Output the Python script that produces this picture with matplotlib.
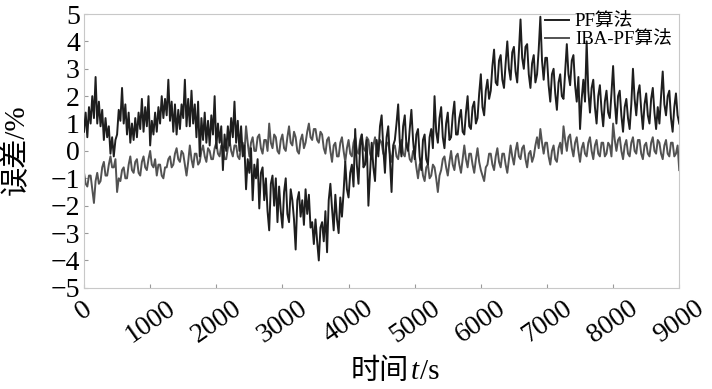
import numpy as np
import matplotlib
matplotlib.use("Agg")
import matplotlib.pyplot as plt
from matplotlib.offsetbox import TextArea, HPacker, AnchoredOffsetbox

# values, one every 25 s from 0 to 9000 s
pf_err = [
    0.7, 1.4, 0.5, 1.6, 1.0, 2.0, 1.2, 2.7, 1.0, 1.8,
    0.9, 1.5, 0.4, 1.2, 0.5, 0.9, -0.1, 0.5, -0.2, 0.4,
    0.6, 1.5, 1.1, 2.3, 1.0, 1.7, 0.6, 1.4, 0.3, 1.0,
    0.4, 1.2, 0.5, 1.4, 0.8, 1.9, 0.7, 1.6, 0.9, 2.0,
    0.2, 1.1, 0.6, 1.4, 0.7, 1.6, 1.0, 2.0, 1.2, 1.9,
    1.3, 2.6, 1.1, 1.8, 0.7, 1.7, 0.6, 1.5, 0.8, 1.7,
    1.2, 2.6, 0.9, 1.9, 0.9, 2.2, 1.0, 1.7, 0.5, 1.8,
    -0.2, 1.2, 0.4, 1.4, 0.3, 1.1, 0.2, 1.3, 0.6, 2.0,
    0.1, 1.0, 0.3, 0.9, -0.7, 0.6, 0.0, 0.9, 0.2, 1.2,
    0.5, 1.8, 0.3, 1.1, 0.0, 0.9, -0.2, 0.2, -1.4, -0.3,
    -0.8, 0.1, -1.8, -0.5, -1.0, -0.3, -2.1, -0.8, -0.6, -1.8,
    -1.0, -2.2, -2.9, -1.2, -0.9, -2.0, -1.0, -2.6, -1.3, -2.2,
    -2.8, -1.5, -1.0, -2.3, -2.6, -1.4, -1.8, -2.5, -3.6, -1.8,
    -1.5, -2.4, -1.8, -2.7, -1.4, -2.3, -1.6, -2.8, -2.6, -3.4,
    -2.5, -3.3, -4.0, -2.8, -2.6, -3.3, -2.2, -3.7, -1.8, -1.2,
    -2.1, -2.9, -1.6, -2.5, -3.0, -1.7, -2.4, -1.5, -0.4, -1.4,
    -1.7, -0.8, -0.5, -1.3, 0.8, -0.5, -1.2, 0.2, 0.6, -0.6,
    -0.5, 0.4, -2.0, -0.8, 0.3, -0.6, -1.1, 0.4, -0.2, 0.9,
    1.3, 0.1, -0.8, 0.5, 0.9, -0.3, -1.5, 0.2, 0.4, 1.0,
    1.7, 0.3, -0.2, 0.9, 1.3, 0.2, 0.0, 0.8, 1.5, 0.4,
    -0.3, 0.6, 0.8, -0.2, -0.7, 0.4, 0.6, -0.3, -0.5, 0.5,
    0.8, 0.1, 2.0, 0.7, 0.3, 1.2, 1.6, 0.5, 0.1, 1.0,
    1.4, 0.4, 0.5, 1.3, 1.8, 0.6, 0.6, 1.2, 1.5, 0.7,
    0.6, 1.4, 2.0, 0.9, 0.8, 1.6, 1.8, 1.0, 1.2, 2.1,
    2.8, 1.6, 1.3, 2.2, 2.6, 1.9, 2.2, 3.1, 3.7, 2.5,
    2.4, 3.3, 3.5, 2.6, 2.3, 3.2, 4.0, 3.0, 2.6, 3.6,
    3.8, 2.9, 2.5, 3.6, 4.8, 3.4, 3.0, 3.8, 3.9, 2.8,
    2.3, 3.2, 3.5, 2.5, 2.8, 3.7, 4.9, 3.3, 2.6, 3.4,
    3.4, 2.4, 1.8, 2.8, 3.0, 2.1, 1.5, 2.5, 2.8, 2.0,
    1.9, 2.9, 3.9, 2.8, 2.4, 3.3, 3.5, 2.4, 1.8, 2.7,
    0.8, 1.9, 2.6, 1.8, 4.0, 2.2, 1.4, 2.3, 2.6, 1.6,
    1.0, 2.0, 2.4, 1.5, 0.9, 1.8, 2.2, 1.4, 1.2, 2.1,
    3.1, 1.8, 1.0, 2.0, 2.2, 1.3, 0.7, 1.6, 1.9, 1.2,
    0.8, 1.7, 3.0, 1.9, 1.3, 2.1, 2.4, 1.5, 0.8, 1.7,
    2.1, 1.3, 1.0, 1.9, 2.3, 1.4, 0.8, 1.6, 1.0, 2.0,
    2.9, 1.7, 1.3, 2.0, 2.2, 1.2, 0.7, 1.6, 2.1, 1.3,
    1.0,
]

iba_err = [
    -0.8, -1.2, -1.3, -0.9, -0.9, -1.4, -1.9, -1.1, -0.8, -1.2,
    -1.1, -0.6, -0.4, -0.9, -0.9, -0.5, -0.2, -0.6, -0.6, -0.3,
    -1.5, -1.0, -1.1, -0.7, -0.6, -1.0, -1.0, -0.5, -0.2, -0.7,
    -0.8, -0.4, -0.3, -0.8, -0.9, -0.4, -0.2, -0.6, -0.7, -0.3,
    0.0, -0.5, -0.6, -0.3, -0.9, -0.5, -0.5, -0.9, -1.0, -0.6,
    -0.6, -0.3, -0.2, -0.6, -0.5, -0.1, 0.1, -0.3, -0.4, 0.0,
    -0.1, -0.5, -0.9, -0.4, 0.2, -0.3, -0.6, -0.1, -0.1, -0.5,
    -0.4, 0.0, 0.2, -0.2, -0.4, 0.1, 0.0, -0.3, -0.3, 0.1,
    0.3, -0.1, -0.2, 0.2, 0.1, -0.3, -0.3, 0.1, 0.4, 0.0,
    -0.2, 0.2, 0.2, -0.2, -0.3, 0.2, 0.3, -0.1, 0.9, 0.3,
    -0.2, 0.3, 0.5, 0.0, 0.0, 0.5, 0.6, 0.1, -0.1, 0.4,
    0.4, 0.0, 1.0, 0.3, 0.1, 0.6, 0.5, 0.0, -0.1, 0.4,
    0.6, 0.1, 0.0, 0.5, 0.9, 0.3, 0.2, 0.7, 0.5, 0.0,
    -0.1, 0.4, 0.6, 0.1, 0.3, 0.7, 1.0, 0.5, 0.4, 0.8,
    0.8, 0.4, 0.3, 0.7, 0.6, 0.1, -0.1, 0.4, 0.5, 0.0,
    -0.4, 0.2, 0.3, -0.2, -0.2, 0.3, 0.5, 0.0, -0.4, 0.1,
    0.4, -0.1, -0.2, 0.3, 0.5, 0.0, -0.1, 0.4, 0.6, 0.1,
    0.0, 0.5, 0.4, -0.1, -0.3, 0.2, 0.5, 0.0, 0.0, 0.4,
    0.3, -0.1, -0.2, 0.3, 0.3, -0.1, -0.4, 0.1, 0.2, -0.2,
    -0.3, 0.2, 0.4, -0.1, -0.2, 0.3, 0.1, -0.3, -0.4, 0.0,
    -0.1, -0.6, -1.0, -0.5, -0.4, -0.9, -1.1, -0.6, -0.5, -1.0,
    -0.9, -0.5, -0.6, -1.0, -1.5, -0.9, -0.7, -0.3, -0.2, -0.6,
    -0.9, -0.4, 0.0, -0.5, -0.7, -0.2, -0.1, -0.5, -0.8, -0.3,
    0.2, -0.3, -0.6, -0.1, -0.1, -0.5, -0.8, -0.3, 0.1, -0.4,
    -0.7, -0.9, -1.1, -0.6, -0.5, -0.1, -0.1, -0.5, -0.7, -0.2,
    0.1, -0.4, -0.6, -0.1, -0.1, -0.5, -0.8, -0.3, 0.2, -0.2,
    -0.5, 0.0, 0.3, -0.2, -0.3, 0.1, 0.2, -0.3, -0.6, -0.1,
    0.0, -0.4, -0.2, 0.2, 0.5, 0.1, 0.8, 0.3, -0.1, 0.3,
    0.3, -0.2, -0.5, 0.0, 0.2, -0.3, -0.4, 0.1, 0.3, -0.1,
    0.9, 0.4, 0.0, 0.5, 0.6, 0.1, -0.2, 0.3, 0.5, 0.0,
    -0.4, 0.1, 0.3, -0.1, -0.2, 0.3, 0.5, 0.0, -0.3, 0.2,
    0.4, -0.1, -0.2, 0.3, 0.3, -0.2, -0.1, 0.3, 0.2, -0.2,
    1.0, 0.4, 0.0, 0.4, 0.5, 0.0, -0.3, 0.2, 0.4, -0.1,
    -0.2, 0.3, 0.5, 0.0, -0.1, 0.4, 0.4, -0.1, -0.3, 0.2,
    0.3, -0.1, -0.2, 0.3, 0.5, 0.0, -0.1, 0.4, 0.3, -0.1,
    -0.3, 0.2, 0.4, -0.1, -0.2, 0.3, 0.3, -0.2, -0.1, 0.2,
    -0.7,
]

time_s = np.arange(len(pf_err)) * 25
x_ticks = [0, 1000, 2000, 3000, 4000, 5000, 6000, 7000, 8000, 9000]
y_ticks = [-5, -4, -3, -2, -1, 0, 1, 2, 3, 4, 5]

serif_cjk = ['Liberation Serif', 'Noto Sans CJK SC']
plt.rcParams['font.family'] = serif_cjk

fig = plt.figure(figsize=(7.12, 3.89), dpi=100)
ax = fig.add_axes([0.118, 0.26, 0.836, 0.704])

ax.plot(time_s, pf_err, color='#1e1e1e', lw=1.4, label='PF算法', zorder=3)
ax.plot(time_s, iba_err, color='#525252', lw=1.4, label='IBA-PF算法', zorder=2)

ax.set_xlim(0, 9000)
ax.set_ylim(-5, 5)
ax.set_xticks(x_ticks)
ax.set_yticks(y_ticks)
ax.set_xticklabels([str(v) for v in x_ticks], rotation=35, ha='center',
                   fontsize=20)
ax.set_yticklabels([str(v).replace('-', '\u2212') for v in y_ticks],
                   fontsize=20)
ax.tick_params(axis='y', direction='in', length=3, color='#999999', pad=3)
ax.tick_params(axis='x', direction='in', length=3, color='#999999', pad=6)

for sp in ax.spines.values():
    sp.set_color('#c8c8c8')
    sp.set_linewidth(0.8)

fig.text(0.023, 0.615, '误差/%', fontsize=21, rotation=90,
         ha='center', va='center')

# x label: CJK + italic t + /s, packed side by side
parts = [TextArea('时间', textprops=dict(fontsize=21, family=serif_cjk)),
         TextArea('t', textprops=dict(fontsize=21, family=serif_cjk,
                                      style='italic')),
         TextArea('/s', textprops=dict(fontsize=21, family=serif_cjk))]
xl = AnchoredOffsetbox(loc='center', child=HPacker(children=parts, pad=0, sep=1),
                       frameon=False, bbox_to_anchor=(0.555, 0.045),
                       bbox_transform=fig.transFigure, borderpad=0, pad=0)
fig.add_artist(xl)

ax.legend(loc='upper right', frameon=False, fontsize=13.5, handlelength=1.3,
          handletextpad=0.3, labelspacing=0.05, borderaxespad=0,
          bbox_to_anchor=(1.0, 1.03))

fig.savefig('out.png', dpi=100)
